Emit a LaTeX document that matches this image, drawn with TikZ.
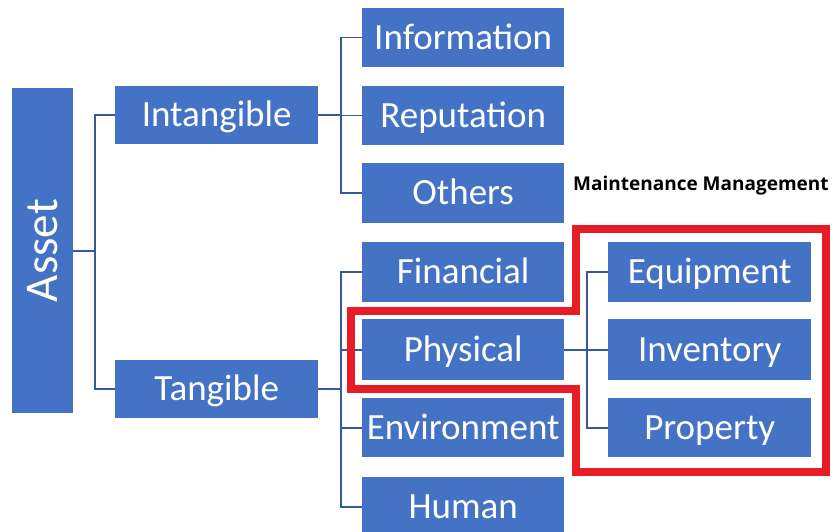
\documentclass[tikz,border=0pt]{standalone}
\usepackage{fontspec}
\setmainfont{Carlito}
\newfontfamily\labelfont{Open Sans}
\definecolor{boxblue}{RGB}{68,114,196}
\definecolor{lineblue}{RGB}{55,90,150}
\definecolor{hired}{RGB}{232,28,36}
\begin{document}
\begin{tikzpicture}[x=1pt,y=-1pt,
  box/.style={draw=none,fill=boxblue,text=white,inner sep=0pt,anchor=north west,
    font=\fontsize{37}{40}\selectfont,text height=23pt,text depth=0pt},
  conn/.style={draw=lineblue,line width=1.6pt}]
\useasboundingbox (0,0) rectangle (836,532);
\clip (0,0) rectangle (836,532);
% Asset
\node[box,minimum width=61pt,minimum height=325pt] (asset) at (12,88) {};
\node[text=white,rotate=90,font=\fontsize{47}{50}\selectfont] at (asset.center) {Asset};
% level 1
\node[box,minimum width=203pt,minimum height=58pt] (intang) at (115,86) {Intangible};
\node[box,minimum width=203pt,minimum height=58pt] (tang) at (115,360) {Tangible};
% level 2
\node[box,minimum width=202pt,minimum height=59pt] (info) at (362,8) {Information};
\node[box,minimum width=202pt,minimum height=59pt] (repu) at (362,86) {Reputation};
\node[box,minimum width=202pt,minimum height=60pt] (other) at (362,163) {Others};
\node[box,minimum width=202pt,minimum height=60pt] (fin) at (362,242) {Financial};
\node[box,minimum width=202pt,minimum height=61pt] (phys) at (362,319) {Physical};
\node[box,minimum width=202pt,minimum height=59pt] (env) at (362,398) {Environment};
\node[box,minimum width=202pt,minimum height=60pt] (hum) at (362,477) {Human};
% level 3
\node[box,minimum width=203pt,minimum height=60pt] (equip) at (608,242) {Equipment};
\node[box,minimum width=203pt,minimum height=61pt] (inv) at (608,319) {Inventory};
\node[box,minimum width=203pt,minimum height=59pt] (prop) at (608,398) {Property};
% label
\node[font=\labelfont\bfseries\fontsize{19}{21}\selectfont,anchor=west,inner sep=0pt] (mm) at (573,186) {Maintenance Management};
% connectors
\coordinate (j1) at (95,0);
\draw[conn] (asset.east) -- (asset.east -| j1);
\draw[conn] (intang.west) -| (j1 |- asset.east) |- (tang.west);
\coordinate (j2) at (341,0);
\draw[conn] (intang.east) -- (intang.east -| j2);
\draw[conn] (info.west) -| (j2 |- repu.west) |- (other.west);
\draw[conn] (j2 |- repu.west) -- (repu.west);
\draw[conn] (tang.east) -- (tang.east -| j2);
\draw[conn] (fin.west) -| (j2 |- hum.west) -- (hum.west);
\draw[conn] (j2 |- phys.west) -- (phys.west);
\draw[conn] (j2 |- env.west) -- (env.west);
\coordinate (j3) at (587,0);
\draw[conn] (phys.east) -- (inv.west);
\draw[conn] (equip.west) -| (j3 |- prop.west) -- (prop.west);
% red outline
\draw[draw=hired,line width=8pt,line join=miter]
  (576,229) -- (826,229) -- (826,472) -- (576,472) -- (576,389) -- (351,389) -- (351,311) -- (576,311) -- cycle;
\end{tikzpicture}
\end{document}
